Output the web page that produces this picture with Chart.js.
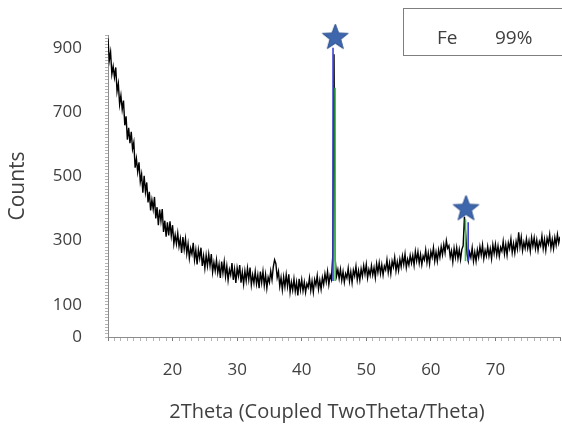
<!DOCTYPE html>
<html>
<head>
<meta charset="utf-8">
<script src="https://cdn.jsdelivr.net/npm/chart.js@4/dist/chart.umd.min.js"></script>
<style>
  html, body { margin: 0; padding: 0; background: #fff; }
  #wrap { width: 562px; height: 430px; position: relative; }
</style>
</head>
<body>
<div id="wrap"><canvas id="xrd"></canvas></div>
<script>
// Scan grid: 2θ from 10° to 80° in 0.2° steps
const scanStart = 10;
const scanStep = 0.2;

// Measured intensity (counts), one row per degree (x.0, x.2, x.4, x.6, x.8)
const counts = [
  929, 861, 887, 818, 842,
  808, 839, 764, 789, 724,
  752, 708, 736, 659, 687,
  614, 651, 603, 639, 585,
  606, 527, 555, 514, 544,
  483, 507, 449, 502, 451,
  481, 419, 452, 394, 427,
  398, 436, 369, 404, 348,
  397, 361, 398, 327, 362,
  312, 357, 316, 360, 315,
  348, 290, 318, 290, 323,
  282, 306, 262, 311, 273,
  306, 259, 290, 245, 276,
  258, 293, 240, 271, 226,
  272, 245, 278, 221, 252,
  214, 254, 221, 258, 222,
  258, 202, 232, 206, 240,
  200, 226, 184, 235, 199,
  234, 188, 221, 177, 210,
  193, 230, 178, 211, 168,
  215, 190, 224, 169, 202,
  165, 206, 175, 214, 179,
  216, 162, 193, 168, 204,
  165, 193, 152, 204, 169,
  204, 160, 194, 152, 186,
  170, 205, 178, 218, 240,
  228, 185, 204, 158, 185,
  147, 187, 156, 194, 158,
  195, 140, 171, 146, 181,
  142, 170, 129, 181, 147,
  178, 144, 171, 139, 166,
  154, 184, 145, 174, 140,
  179, 161, 191, 149, 177,
  149, 185, 163, 197, 172,
  204, 163, 192, 179, 250,
  880, 238, 190, 210, 182,
  211, 176, 203, 170, 197,
  184, 214, 174, 203, 169,
  208, 190, 220, 178, 206,
  177, 212, 189, 222, 196,
  226, 184, 210, 192, 222,
  193, 216, 185, 228, 201,
  231, 197, 225, 193, 221,
  209, 240, 201, 230, 197,
  236, 218, 248, 206, 234,
  207, 242, 219, 252, 226,
  258, 216, 242, 224, 254,
  230, 254, 224, 266, 237,
  265, 230, 257, 225, 252,
  240, 271, 232, 261, 228,
  266, 248, 278, 236, 264,
  236, 271, 248, 281, 256,
  288, 262, 300, 276, 284,
  248, 268, 234, 276, 248,
  278, 244, 272, 241, 273,
  284, 374, 320, 258, 236,
  264, 247, 278, 236, 264,
  236, 271, 248, 281, 255,
  286, 244, 270, 252, 282,
  252, 275, 244, 287, 260,
  289, 255, 283, 251, 279,
  267, 298, 259, 288, 255,
  293, 275, 305, 263, 291,
  262, 297, 274, 326, 281,
  311, 269, 295, 276, 306,
  276, 299, 268, 310, 283,
  309, 275, 302, 270, 297,
  284, 315, 275, 304, 270,
  308, 290, 319, 277, 304,
  275, 310, 286, 319, 292,
  312
];

// Reference pattern sticks for Fe: [2θ, base counts, top counts]
const feSticksBlue  = [[44.85, 174, 900], [65.78, 236, 357]];
const feSticksGreen = [[45.18, 174, 776], [65.36, 236, 366]];

// Identified reflections (star markers): 2θ and marker height
const peakAngles  = [45.2, 65.45];
const peakMarkerY = [935, 402];

// Axis labels and phase summary
const yLabelValues = [0, 100, 300, 500, 700, 900];
const xLabelValues = [20, 30, 40, 50, 60, 70];
const xTitle = '2Theta (Coupled TwoTheta/Theta)';
const phaseName = 'Fe';
const phaseShare = '99%';

const textColor = '#404040';
const fontFamily = '"Open Sans", "Noto Sans", sans-serif';

const scan = counts.map((c, i) => ({ x: +(scanStart + i * scanStep).toFixed(1), y: c }));

function stickSets(sticks, color) {
  return sticks.map(s => ({
    type: 'line',
    data: [{ x: s[0], y: s[1] }, { x: s[0], y: s[2] }],
    borderColor: color,
    borderWidth: 1.6,
    pointRadius: 0,
    order: 1
  }));
}

// Filled five-point star used as the marker glyph
function makeStar(r) {
  const size = Math.ceil(r * 2 + 4);
  const c = document.createElement('canvas');
  c.width = size; c.height = size;
  const g = c.getContext('2d');
  const cx = size / 2, cy = size / 2 + 1;
  const inner = r * 0.42;
  g.beginPath();
  for (let k = 0; k < 10; k++) {
    const rad = k % 2 === 0 ? r : inner;
    const a = -Math.PI / 2 + k * Math.PI / 5;
    const px = cx + rad * Math.cos(a), py = cy + rad * Math.sin(a);
    if (k === 0) g.moveTo(px, py); else g.lineTo(px, py);
  }
  g.closePath();
  g.fillStyle = '#3d66ad';
  g.fill();
  g.strokeStyle = '#2b4e8c';
  g.lineWidth = 1;
  g.stroke();
  return c;
}
const starGlyph = makeStar(13.5);

// Phase summary box in the upper right corner, plus the 2θ axis caption
const annotations = {
  id: 'annotations',
  afterDraw(chart) {
    const ctx = chart.ctx;
    ctx.save();
    ctx.strokeStyle = '#7f7f7f';
    ctx.lineWidth = 1;
    ctx.strokeRect(403.5, 8.5, 200, 47);
    ctx.fillStyle = textColor;
    ctx.font = '19px ' + fontFamily;
    ctx.textBaseline = 'middle';
    ctx.textAlign = 'left';
    ctx.fillText(phaseName, 437, 39);
    ctx.fillText(phaseShare, 495, 39);

    ctx.font = '20px ' + fontFamily;
    ctx.textAlign = 'center';
    ctx.fillText(xTitle, 327, 412);
    ctx.restore();
  }
};

new Chart(document.getElementById('xrd'), {
  type: 'scatter',
  data: {
    datasets: [
      {
        type: 'scatter',
        data: peakAngles.map((a, i) => ({ x: a, y: peakMarkerY[i] })),
        pointStyle: starGlyph,
        pointRadius: 14,
        clip: false,
        order: 0
      },
      ...stickSets(feSticksBlue, '#4040d8'),
      ...stickSets(feSticksGreen, '#2ecc40'),
      {
        type: 'line',
        data: scan,
        borderColor: '#000',
        borderWidth: 1.4,
        pointRadius: 0,
        tension: 0,
        order: 2
      }
    ]
  },
  options: {
    responsive: true,
    maintainAspectRatio: false,
    animation: false,
    events: [],
    layout: { autoPadding: false, padding: { top: 35, right: 2, bottom: 0, left: 0 } },
    plugins: { legend: { display: false }, tooltip: { enabled: false } },
    scales: {
      x: {
        type: 'linear',
        min: 10,
        max: 80,
        afterFit(s) { s.height = 93; s.paddingLeft = 0; s.paddingRight = 0; },
        border: { color: '#8c8c8c', width: 1 },
        grid: {
          drawOnChartArea: false,
          tickLength: 4,
          tickColor: ctx => (ctx.tick && ctx.tick.value % 10 === 0 ? '#7a7a7a' : '#b5b5b5')
        },
        ticks: {
          stepSize: 1,
          autoSkip: false,
          maxRotation: 0,
          padding: 19,
          color: textColor,
          font: { family: fontFamily, size: 17 },
          callback: v => (xLabelValues.includes(v) ? String(v) : '')
        }
      },
      y: {
        type: 'linear',
        min: 0,
        max: 940,
        afterFit(s) { s.width = 108; s.paddingTop = 0; s.paddingBottom = 0; },
        border: { color: '#8c8c8c', width: 1 },
        grid: {
          drawOnChartArea: false,
          tickLength: 3,
          tickColor: '#b5b5b5'
        },
        ticks: {
          stepSize: 10,
          autoSkip: false,
          padding: 23,
          color: textColor,
          font: { family: fontFamily, size: 17 },
          callback: v => (yLabelValues.includes(v) ? String(v) : '')
        },
        title: {
          display: true,
          text: 'Counts',
          color: textColor,
          font: { family: fontFamily, size: 21 },
          padding: { top: 5, bottom: 4 }
        }
      }
    }
  },
  plugins: [annotations]
});
</script>
</body>
</html>
